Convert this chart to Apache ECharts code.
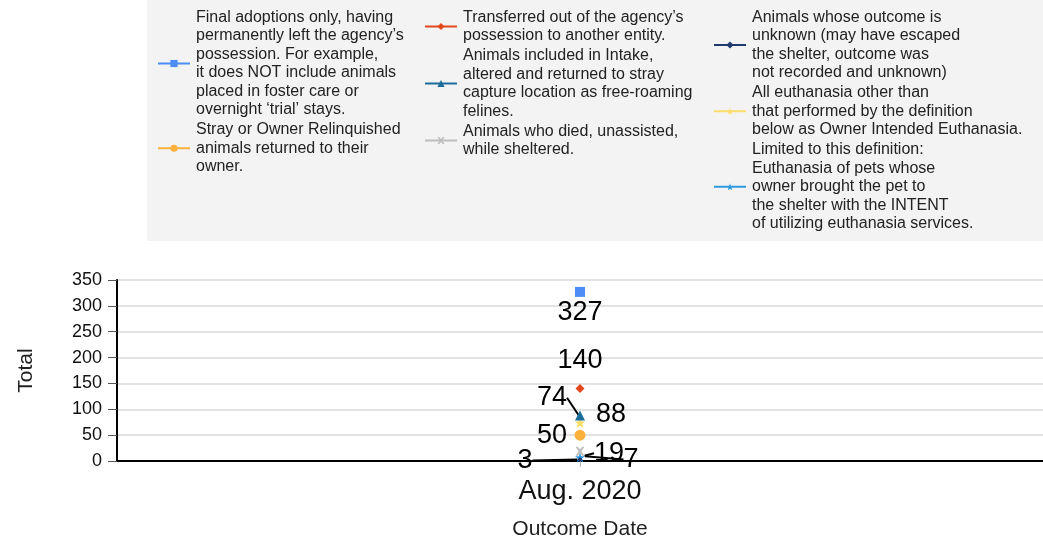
<!DOCTYPE html>
<html>
<head>
<meta charset="utf-8">
<script src="https://cdn.jsdelivr.net/npm/echarts@6/dist/echarts.min.js"></script>
<style>
html,body{margin:0;padding:0;background:#fff;}
#chart{width:1043px;height:543px;}
</style>
</head>
<body>
<div id="chart"></div>
<script>
const categories = ['Aug. 2020'];
const seriesNames = [
  'Final adoptions only, having\npermanently left the agency\u2019s\npossession. For example,\nit does NOT include animals\nplaced in foster care or\novernight \u2018trial\u2019 stays.',
  'Stray or Owner Relinquished\nanimals returned to their\nowner.',
  'Transferred out of the agency\u2019s\npossession to another entity.',
  'Animals included in Intake,\naltered and returned to stray\ncapture location as free-roaming\nfelines.',
  'Animals who died, unassisted,\nwhile sheltered.',
  'Animals whose outcome is\nunknown (may have escaped\nthe shelter, outcome was\nnot recorded and unknown)',
  'All euthanasia other than\nthat performed by the definition\nbelow as Owner Intended Euthanasia.',
  'Limited to this definition:\nEuthanasia of pets whose\nowner brought the pet to\nthe shelter with the INTENT\nof utilizing euthanasia services.'
];
const adoptionValues = [327];
const returnToOwnerValues = [50];
const transferValues = [140];
const tnrValues = [88];
const diedValues = [19];
const unknownValues = [3];
const euthanasiaValues = [74];
const ownerIntendedValues = [7];
const yTicks = [0, 50, 100, 150, 200, 250, 300, 350];

const seriesValues = [adoptionValues, returnToOwnerValues, transferValues, tnrValues,
  diedValues, unknownValues, euthanasiaValues, ownerIntendedValues];

const colors = ['#4C8DF6', '#FBB13C', '#E2491C', '#1C6C9C', '#BDBDBD', '#213B70', '#FDDC6C', '#2E9BE0'];
const X_PATH = 'path://M0,0 L2.5,0 L5,3 L7.5,0 L10,0 L6.5,5 L10,10 L7.5,10 L5,7 L2.5,10 L0,10 L3.5,5 Z';
const STAR_PATH = 'path://M5,0 L6.2,3.6 L10,3.6 L7,5.9 L8.1,9.5 L5,7.3 L1.9,9.5 L3,5.9 L0,3.6 L3.8,3.6 Z';
const symbols = ['rect', 'circle', 'diamond', 'triangle', X_PATH, 'diamond', STAR_PATH, STAR_PATH];
const symbolSizes = [10, 11, 9, 10, 9, 5, 11, 10];
const labelOffsets = [[0, 21], [-28, 0], [0, -28], [31, -1], [29, 2], [-55, 1], [-28, -25], [51, 2]];
const useLine = [false, false, false, false, true, true, true, true];
const FONT = 'Liberation Sans, Arial, sans-serif';

const chart = echarts.init(document.getElementById('chart'));

const series = seriesNames.map((name, i) => ({
  name: name,
  type: 'line',
  data: seriesValues[i],
  symbol: symbols[i],
  symbolSize: symbolSizes[i],
  showSymbol: true,
  itemStyle: { color: colors[i] },
  lineStyle: { color: colors[i], width: 2 },
  z: 10 - i,
  label: {
    show: true,
    position: 'inside',
    formatter: '{c}',
    color: '#000',
    fontFamily: FONT,
    fontSize: 27
  },
  labelLine: {
    show: useLine[i],
    lineStyle: { color: '#000', width: 2 }
  },
  labelLayout: { dx: labelOffsets[i][0], dy: labelOffsets[i][1] }
}));

const legendCommon = {
  orient: 'vertical',
  top: 8,
  padding: 0,
  itemWidth: 32,
  itemHeight: 9,
  itemGap: 1.5,
  selectedMode: false,
  textStyle: {
    fontFamily: FONT,
    fontSize: 16,
    lineHeight: 18.5,
    color: '#222',
    padding: [0, 0, 0, 1]
  }
};

chart.setOption({
  animation: false,
  backgroundColor: '#fff',
  graphic: [{
    type: 'rect',
    left: 147, top: 0,
    shape: { width: 896, height: 241 },
    style: { fill: '#f3f3f3' },
    z: -10
  }],
  legend: [
    Object.assign({}, legendCommon, { left: 157, data: [seriesNames[0], seriesNames[1]] }),
    Object.assign({}, legendCommon, { left: 424, data: [seriesNames[2], seriesNames[3], seriesNames[4]] }),
    Object.assign({}, legendCommon, { left: 713, data: [seriesNames[5], seriesNames[6], seriesNames[7]] })
  ],
  grid: { left: 117, right: 0, top: 280, bottom: 82, containLabel: false, outerBoundsMode: 'none' },
  xAxis: {
    type: 'category',
    data: categories,
    name: 'Outcome Date',
    nameLocation: 'middle',
    nameGap: 58,
    nameTextStyle: { fontFamily: FONT, fontSize: 21, color: '#222' },
    axisLine: { lineStyle: { color: '#000', width: 2 } },
    axisTick: { show: true, alignWithLabel: true, length: 6, lineStyle: { color: '#bbb' } },
    axisLabel: { fontFamily: FONT, fontSize: 27, color: '#111', margin: 17 }
  },
  yAxis: {
    type: 'value',
    min: yTicks[0],
    max: yTicks[yTicks.length - 1],
    interval: 50,
    name: 'Total',
    nameLocation: 'middle',
    nameGap: 80,
    nameRotate: 90,
    nameTextStyle: { fontFamily: FONT, fontSize: 21, color: '#222' },
    axisLine: { show: true, lineStyle: { color: '#000', width: 2 } },
    axisTick: { show: true, length: 9, lineStyle: { color: '#555' } },
    axisLabel: { fontFamily: FONT, fontSize: 18, color: '#111', margin: 15 },
    splitLine: { show: true, lineStyle: { color: '#d8d8d8', width: 1.5 } }
  },
  series: series
});
</script>
</body>
</html>
